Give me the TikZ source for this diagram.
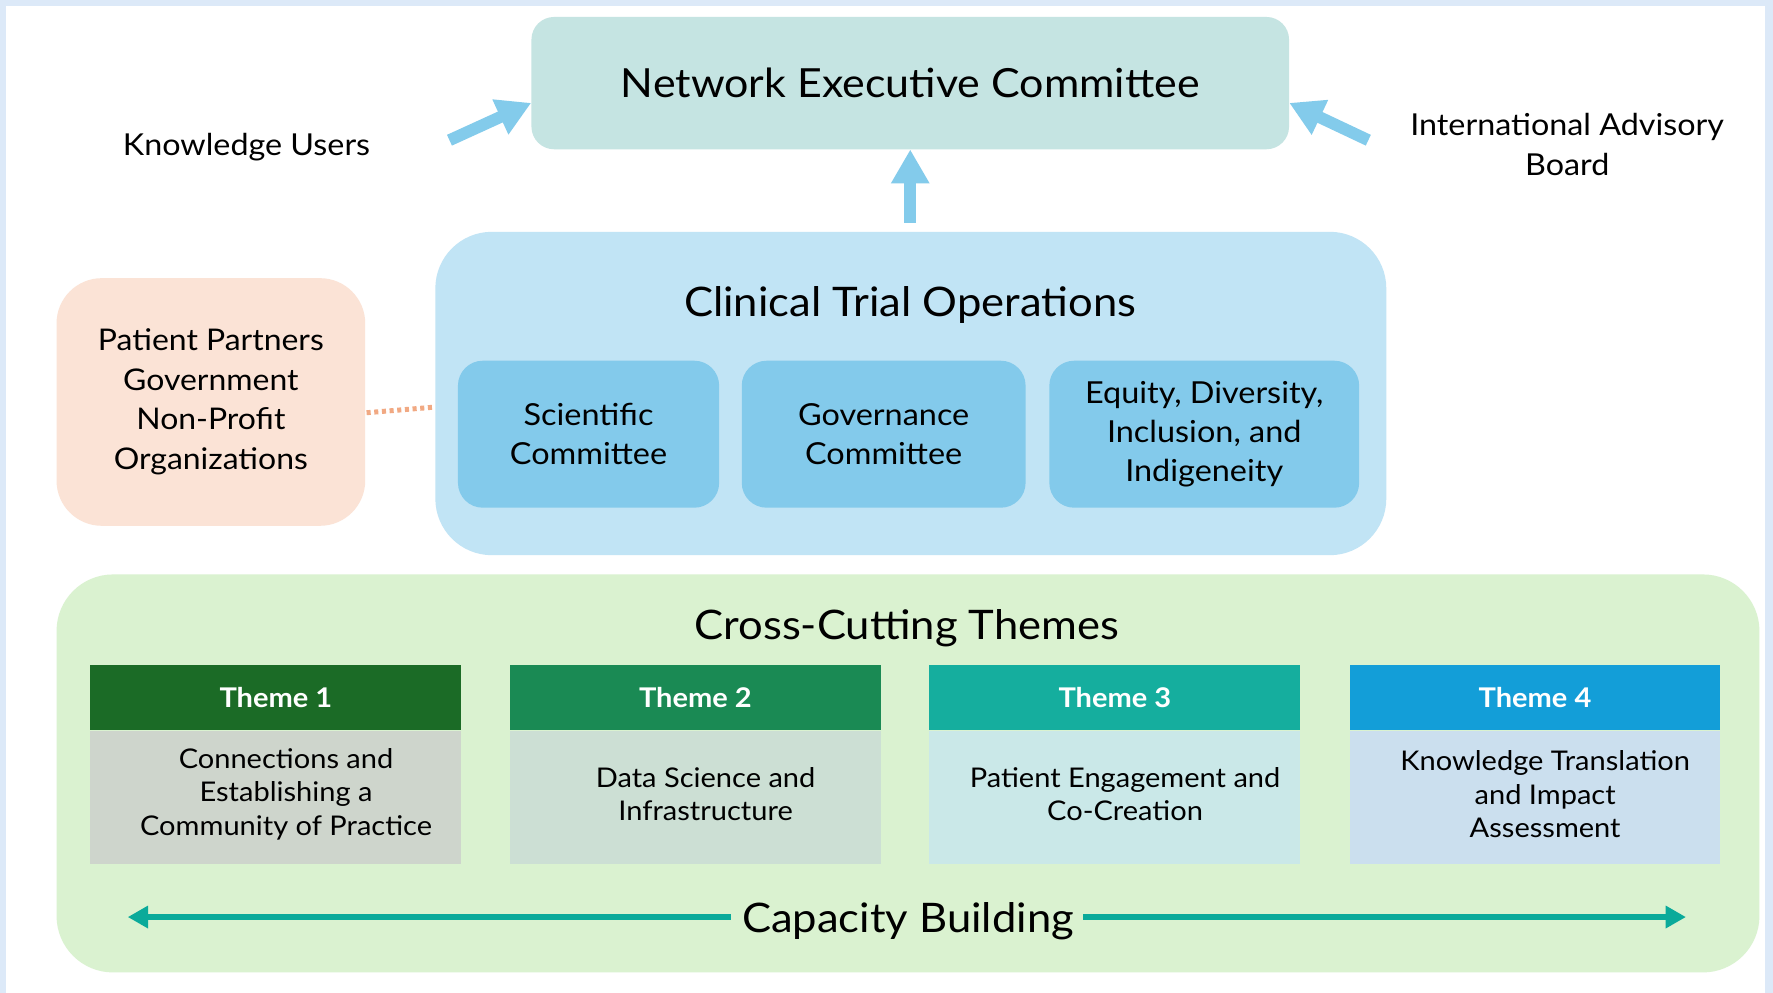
\documentclass[tikz,border=0pt]{standalone}
\usepackage{fontspec}
\setmainfont{Lato}[FakeStretch=1.07]
\usetikzlibrary{arrows.meta,calc}
\definecolor{bordercol}{HTML}{DCE9F8}
\definecolor{neccol}{HTML}{C5E4E2}
\definecolor{arrowblue}{HTML}{83CBEB}
\definecolor{ctocol}{HTML}{C1E4F5}
\definecolor{subcol}{HTML}{83CAEB}
\definecolor{ppcol}{HTML}{FBE3D6}
\definecolor{dotcol}{HTML}{F1A983}
\definecolor{cctcol}{HTML}{DAF2D0}
\definecolor{thA}{HTML}{1B6B26}
\definecolor{thB}{HTML}{1A8A54}
\definecolor{thC}{HTML}{15AE9E}
\definecolor{thD}{HTML}{139ED8}
\definecolor{bdA}{HTML}{CED5CC}
\definecolor{bdB}{HTML}{CCDFD4}
\definecolor{bdC}{HTML}{CAE8E8}
\definecolor{bdD}{HTML}{CBDFEE}
\definecolor{capcol}{HTML}{0AAA9A}
\newcommand\fsz[2]{\fontsize{#1}{#2}\selectfont}
\begin{document}
\begin{tikzpicture}[x=1pt,y=-1pt,
  rbox/.style={draw=none,inner sep=0pt,align=center},
  blk/.style={arrowblue,line width=10.5pt,-{Triangle[width=32pt,length=30pt]}},
  capar/.style={capcol,line width=6pt,-{Triangle[width=19pt,length=18pt]}},
  dotline/.style={dotcol,line width=4.4pt,dash pattern=on 3.6pt off 3.2pt},
  thhead/.style={rbox,minimum width=328pt,minimum height=58pt,text=white,font=\fsz{24}{28}\bfseries},
  thbody/.style={rbox,minimum width=328pt,minimum height=118pt},
  thtext/.style={align=center,inner sep=0pt,font=\fsz{24}{29.5}},
  subbox/.style={rbox,fill=subcol,rounded corners=22pt,minimum height=130pt,font=\fsz{26.8}{34.5}},
  bigtitle/.style={inner sep=0pt,font=\fsz{36}{42}}
]
\useasboundingbox (0,0) rectangle (1568,878);
\fill[bordercol] (0,0) rectangle (1568,878);
\fill[white] (5.5,5.5) rectangle (1561,878);

% top
\node[rbox,fill=neccol,rounded corners=20pt,minimum width=670pt,minimum height=117pt,font=\fsz{35.5}{40}] (nec) at (805,73.5) {Network Executive Committee};
\node[inner sep=0pt,font=\fsz{26.7}{30}] (ku) at (218,130) {Knowledge Users};
\node[inner sep=0pt,align=center,font=\fsz{26.7}{35}] (iab) at (1386,128) {International Advisory\\Board};

% clinical trial operations
\node[rbox,fill=ctocol,rounded corners=50pt,minimum width=841pt,minimum height=286pt] (cto) at (805.5,348) {};
\node[bigtitle] (ctotitle) at (805,270) {Clinical Trial Operations};
\node[subbox,minimum width=231pt] (sci) at (520.5,384) {Scientific\\Committee};
\node[subbox,minimum width=251pt] (gov) at (781.5,384) {Governance\\Committee};
\node[subbox,minimum width=274pt] (edi) at (1065,384) {Equity, Diversity,\\Inclusion, and\\Indigeneity};

% partners
\node[rbox,fill=ppcol,rounded corners=40pt,minimum width=273pt,minimum height=219pt,font=\fsz{26.4}{35}] (pp) at (186.5,355.5) {Patient Partners\\Government\\Non-Profit\\Organizations};

% arrows
\draw[blk] ([xshift=70pt,yshift=6pt]ku.east) -- ([yshift=-17.5pt]nec.west);
\draw[blk] ([xshift=-37pt,yshift=4pt]iab.west) -- ([yshift=-17.5pt]nec.east);
\draw[blk,shorten <=8pt] (cto.north -| nec.south) -- (nec.south);
\draw[dotline] ([xshift=1pt,yshift=-9.5pt]pp.east) -- ([yshift=-12pt]cto.west);

% cross-cutting themes
\node[rbox,fill=cctcol,rounded corners=50pt,minimum width=1506pt,minimum height=352pt] (cct) at (803,684) {};
\node[bigtitle] (ccttitle) at (802,556) {Cross-Cutting Themes};

\node[thhead,fill=thA] (h1) at (244,617) {Theme 1};
\node[thhead,fill=thB] (h2) at (615,617) {Theme 2};
\node[thhead,fill=thC] (h3) at (986,617) {Theme 3};
\node[thhead,fill=thD] (h4) at (1357.5,617) {Theme 4};
\node[thbody,fill=bdA,anchor=north] (b1) at (h1.south) {};
\node[thbody,fill=bdB,anchor=north] (b2) at (h2.south) {};
\node[thbody,fill=bdC,anchor=north] (b3) at (h3.south) {};
\node[thbody,fill=bdD,anchor=north] (b4) at (h4.south) {};
\node[thtext] (t1) at ([xshift=9pt,yshift=3pt]b1.center) {Connections and\\Establishing a\\Community of Practice};
\node[thtext] (t2) at ([xshift=9pt,yshift=3pt]b2.center) {Data Science and\\Infrastructure};
\node[thtext] (t3) at ([xshift=9pt,yshift=3pt]b3.center) {Patient Engagement and\\Co-Creation};
\node[thtext] (t4) at ([xshift=9pt,yshift=3pt]b4.center) {Knowledge Translation\\and Impact\\Assessment};

% capacity building
\node[inner sep=0pt,font=\fsz{36}{42}] (cb) at (803,815) {Capacity Building};
\coordinate (cbL) at (113,811);
\coordinate (cbR) at (1491,811);
\draw[capar,shorten <=10pt] (cb.west |- cbL) -- (cbL);
\draw[capar,shorten <=8pt] (cb.east |- cbR) -- (cbR);
\end{tikzpicture}
\end{document}
